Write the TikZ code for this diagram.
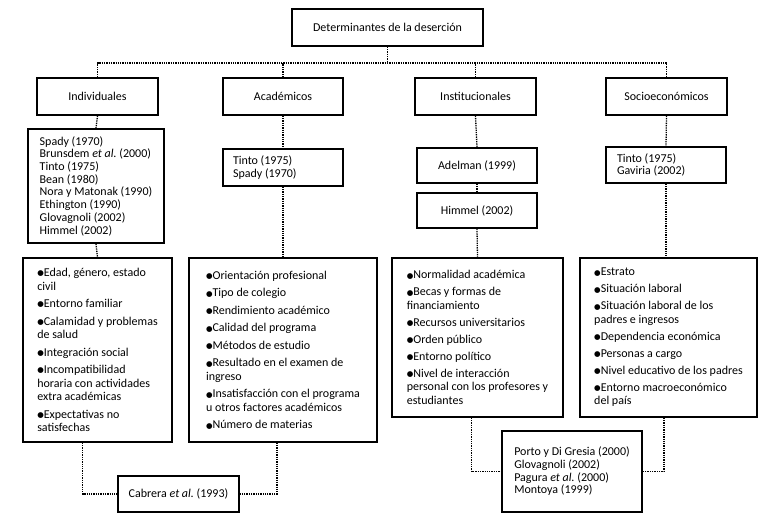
\documentclass[tikz,border=0pt]{standalone}
\usepackage{fontspec}
\setmainfont{Carlito}
\newfontfamily\dejavu{DejaVu Sans}
\newcommand\bul{\raisebox{0.8pt}{\dejavu\fontsize{7.5}{7.5}\selectfont ●}}
\frenchspacing
\begin{document}
\begin{tikzpicture}[x=1pt,y=-1pt,
  box/.style={draw, line width=1.6pt, inner sep=0pt, align=center, font=\fontsize{12}{13.5}\selectfont},
  hbox/.style={box, minimum width=121pt, minimum height=37pt},
  rbox/.style={box, align=flush left, font=\fontsize{12}{12.7}\selectfont},
  bbox/.style={box, align=flush left, font=\fontsize{12}{13.5}\selectfont},
  con/.style={densely dotted, line width=1.3pt}]
\fill[white] (0,0) rectangle (760,520);
\useasboundingbox (0,0) rectangle (760,520);
% top
\node[box, minimum width=191pt, minimum height=37pt] (top) at (387.5,27.5) {Determinantes de la deserción};
% headings
\node[hbox] (ind) at (97.5,96.5) {Individuales};
\node[hbox, minimum width=120pt] (aca) at (283,96.5) {Académicos};
\node[hbox] (ins) at (475.5,96.5) {Institucionales};
\node[hbox] (soc) at (666.5,96.5) {Socioeconómicos};
% references
\node[rbox, minimum width=136pt, minimum height=114pt] (indr) at (96,186) {Spady (1970)\\Brunsdem \textit{et al.} (2000)\\Tinto (1975)\\Bean (1980)\\Nora y Matonak (1990)\\Ethington (1990)\\Glovagnoli (2002)\\Himmel (2002)};
\node[rbox, text width=100pt, inner xsep=10pt, minimum height=37pt] (acar) at (283,167.5) {Tinto (1975)\\Spady (1970)};
\node[box, minimum width=120pt, minimum height=35pt] (adel) at (477,165.5) {Adelman (1999)};
\node[box, minimum width=120pt, minimum height=35pt] (him) at (477,210.5) {Himmel (2002)};
\node[rbox, text width=98pt, inner xsep=11pt, minimum height=36pt] (socr) at (666,165) {Tinto (1975)\\Gaviria (2002)};
% bullet boxes
\node[bbox, minimum width=149pt, minimum height=184pt] (ib) at (97.5,350) {\bul Edad, género, estado\\civil\\[4pt]\bul Entorno familiar\\[4pt]\bul Calamidad y problemas\\de salud\\[4pt]\bul Integración social\\[4pt]\bul Incompatibilidad\\horaria con actividades\\extra académicas\\[4pt]\bul Expectativas no\\satisfechas};
\node[bbox, minimum width=188pt, minimum height=184pt] (ab) at (283,350) {\bul Orientación profesional\\[4pt]\bul Tipo de colegio\\[4pt]\bul Rendimiento académico\\[4pt]\bul Calidad del programa\\[4pt]\bul Métodos de estudio\\[4pt]\bul Resultado en el examen de\\ingreso\\[4pt]\bul Insatisfacción con el programa\\u otros factores académicos\\[4pt]\bul Número de materias};
\node[bbox, minimum width=171pt, minimum height=159pt] (inb) at (477.5,337.5) {\bul Normalidad académica\\[3.5pt]\bul Becas y formas de\\financiamiento\\[3.5pt]\bul Recursos universitarios\\[3.5pt]\bul Orden público\\[3.5pt]\bul Entorno político\\[3.5pt]\bul Nivel de interacción\\personal con los profesores y\\estudiantes};
\node[bbox, minimum width=177pt, minimum height=159pt] (sob) at (668.5,337.5) {\bul Estrato\\[3.5pt]\bul Situación laboral\\[3.5pt]\bul Situación laboral de los\\padres e ingresos\\[3.5pt]\bul Dependencia económica\\[3.5pt]\bul Personas a cargo\\[3.5pt]\bul Nivel educativo de los padres\\[3.5pt]\bul Entorno macroeconómico\\del país};
% bottom references
\node[box, minimum width=121pt, minimum height=36pt] (cab) at (178.5,494) {Cabrera \textit{et al.} (1993)};
\node[rbox, minimum width=140pt, minimum height=81pt] (porto) at (572,471.5) {Porto y Di Gresia (2000)\\Glovagnoli (2002)\\Pagura \textit{et al.} (2000)\\Montoya (1999)};
% connectors
\coordinate (bus) at (0,63);
\draw[con] (top.south) -- (top.south |- bus);
\draw[con] (ind.north) -- (ind.north |- bus) -- (soc.north |- bus) -- (soc.north);
\draw[con] (aca.north) -- (aca.north |- bus);
\draw[con] (ins.north) -- (ins.north |- bus);
\draw[con] (ind.south) -- (indr.north);
\draw[con] (indr.south) -- (ib.north);
\draw[con] (aca.south) -- (acar.north);
\draw[con] (acar.south) -- (ab.north);
\draw[con] (ins.south) -- (adel.north);
\draw[con] (adel.south) -- (him.north);
\draw[con] (him.south) -- (inb.north);
\draw[con] (soc.south) -- (socr.north);
\draw[con] (socr.south) -- (socr.south |- sob.north);
\draw[con] ([xshift=-15pt]ib.south) |- (cab.west);
\draw[con] ([xshift=-6pt]ab.south) |- (cab.east);
\draw[con] ([xshift=-6pt]inb.south) |- (porto.west);
\draw[con] ([xshift=-4.5pt]sob.south) |- (porto.east);
\end{tikzpicture}
\end{document}
